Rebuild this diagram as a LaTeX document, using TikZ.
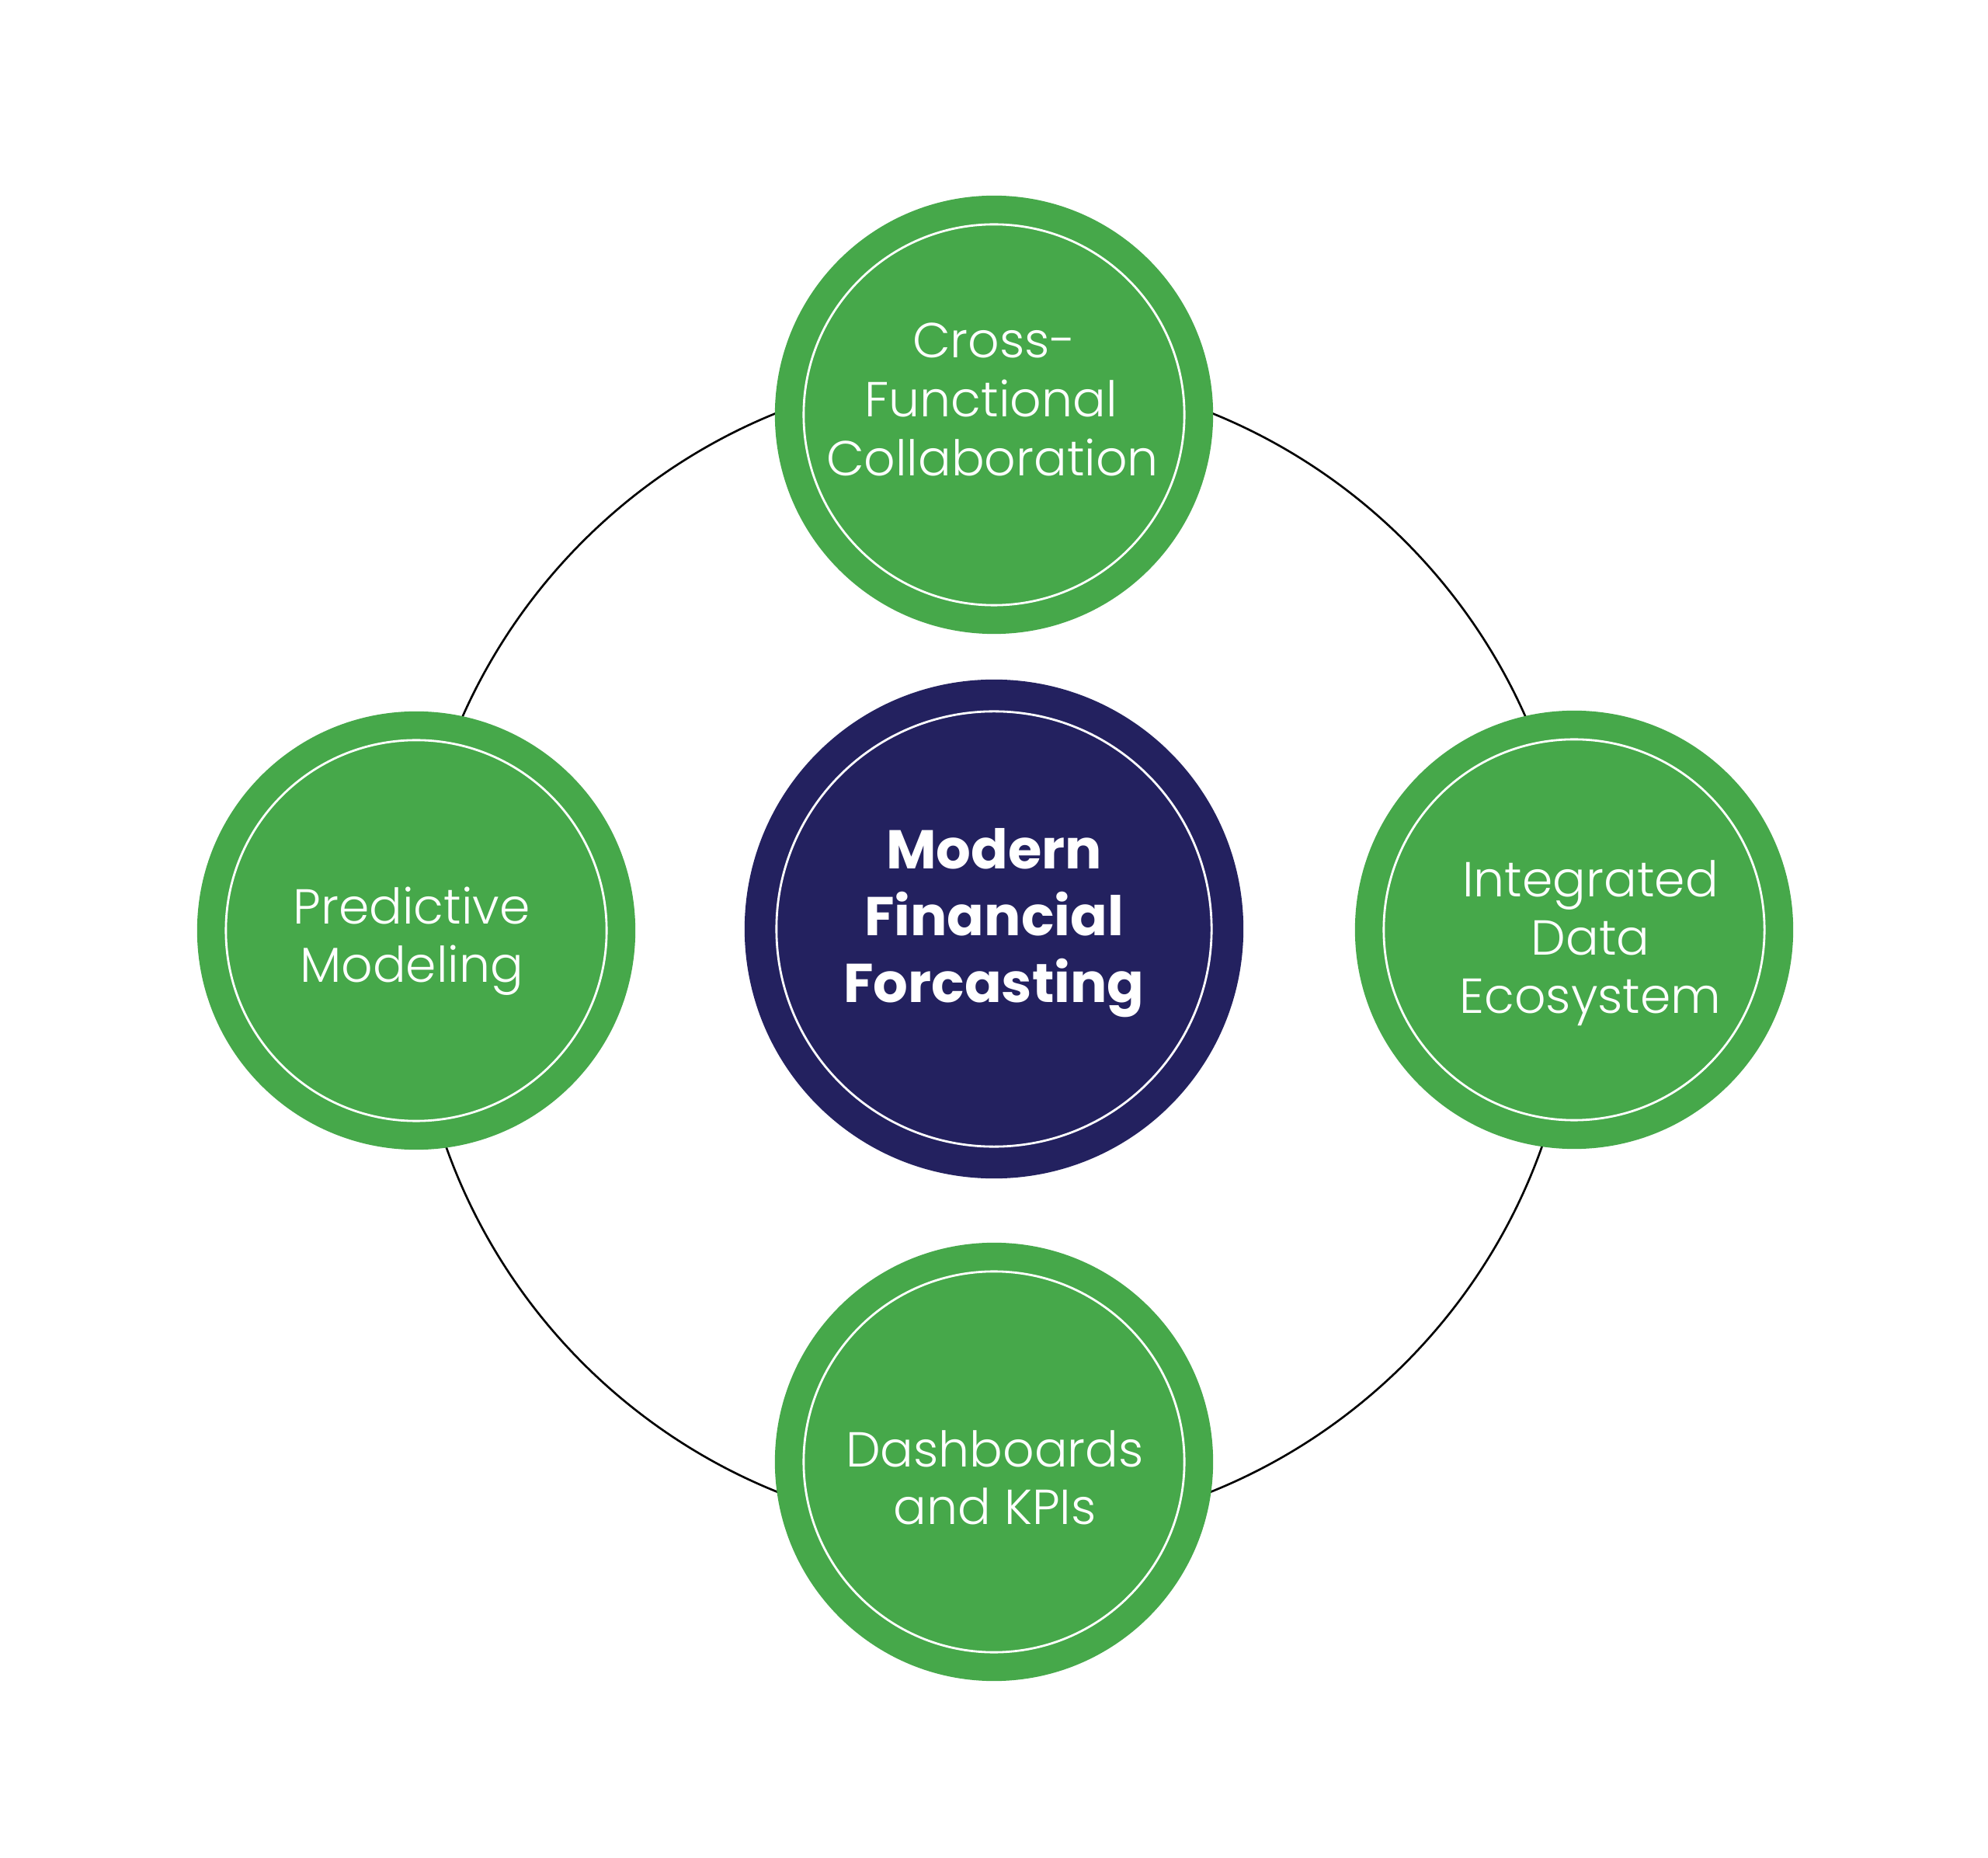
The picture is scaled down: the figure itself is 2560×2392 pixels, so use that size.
\documentclass[tikz,border=0pt]{standalone}
\usepackage{fontspec}
\newfontfamily\lightfont{Poppins Light}
\newfontfamily\heavyfont{Poppins Bold}
\definecolor{ggreen}{HTML}{46A84A}
\definecolor{navy}{HTML}{23215F}
\tikzset{
  greencircle/.style={circle, fill=ggreen, minimum size=5.64cm, inner sep=0pt},
  navycircle/.style={circle, fill=navy, minimum size=6.42cm, inner sep=0pt},
  whitering/.style={draw=white, line width=0.8pt},
  orbitline/.style={draw=black, line width=0.75pt},
  lbl/.style={anchor=base, text=white, inner sep=0pt, font=\lightfont\fontsize{18}{22}\selectfont},
  ctr/.style={anchor=base, text=white, inner sep=0pt, font=\heavyfont\fontsize{20}{24}\selectfont}
}
\begin{document}
\begin{tikzpicture}[x=0.01cm, y=-0.01cm]
\useasboundingbox (0,0) rectangle (2560,2392);
\fill[white] (0,0) rectangle (2560,2392);
\coordinate (orbit) at (1280,1226);
\draw[orbitline] (orbit) circle[radius=7.48cm];
% nodes
\node[greencircle] (top) at (1280,534) {};
\node[greencircle] (left) at (536,1198) {};
\node[greencircle] (right) at (2027,1197) {};
\node[greencircle] (bottom) at (1280,1882) {};
\node[navycircle] (center) at (1280,1196) {};
\draw[whitering] (top.center) circle[radius=2.45cm];
\draw[whitering] (left.center) circle[radius=2.45cm];
\draw[whitering] (right.center) circle[radius=2.45cm];
\draw[whitering] (bottom.center) circle[radius=2.45cm];
\draw[whitering] (center.center) circle[radius=2.80cm];
% labels
\node[lbl] (t1) at (1280,461) {Cross-};
\node[lbl] (t2) at (1276,537) {Functional};
\node[lbl] (t3) at (1278,613) {Collaboration};
\node[lbl] (l1) at (530,1190) {Predictive};
\node[lbl] (l2) at (530,1265) {Modeling};
\node[lbl] (r1) at (2048,1155) {Integrated};
\node[lbl] (r2) at (2048,1230) {Data};
\node[lbl] (r3) at (2048,1305) {Ecosystem};
\node[lbl] (b1) at (1281,1888) {Dashboards};
\node[lbl] (b2) at (1281,1962) {and KPIs};
\node[ctr] (c1) at (1280,1119) {Modern};
\node[ctr] (c2) at (1280,1205) {Financial};
\node[ctr] (c3) at (1280,1291) {Forcasting};
\end{tikzpicture}
\end{document}
